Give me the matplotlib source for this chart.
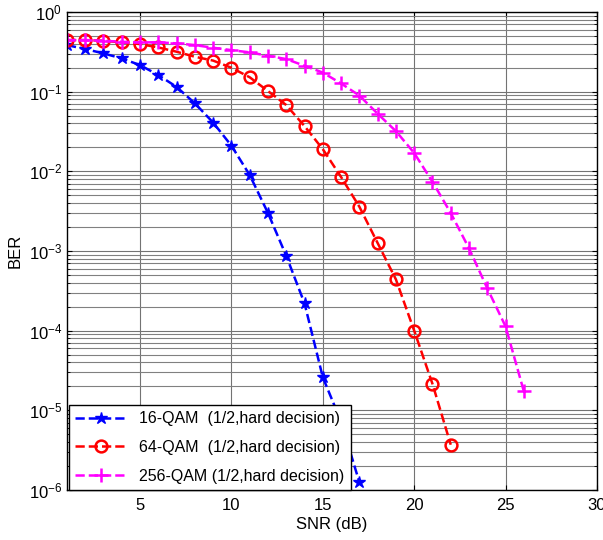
import matplotlib.pyplot as plt
from matplotlib.ticker import LogLocator, NullFormatter

plt.rcParams['font.family'] = ['Liberation Sans', 'DejaVu Sans']
plt.rcParams['mathtext.default'] = 'regular'

# SNR (dB) points per curve
snr_16 = list(range(1, 18))
snr_64 = list(range(1, 23))
snr_256 = list(range(1, 27))

# BER values
ber_16 = [0.385, 0.344, 0.303, 0.262, 0.216, 0.162, 0.115, 0.0715, 0.041, 0.021,
          0.009, 3.0e-3, 8.7e-4, 2.2e-4, 2.6e-5, 7.2e-6, 1.25e-6]
ber_64 = [0.445, 0.445, 0.437, 0.417, 0.397, 0.36, 0.318, 0.275, 0.246, 0.2,
          0.152, 0.102, 0.068, 0.037, 0.019, 0.0085, 3.6e-3, 1.26e-3, 4.4e-4,
          1.0e-4, 2.15e-5, 3.7e-6]
ber_256 = [0.445, 0.445, 0.437, 0.424, 0.417, 0.417, 0.405, 0.385, 0.357, 0.333,
           0.312, 0.283, 0.257, 0.212, 0.174, 0.127, 0.0896, 0.053, 0.032, 0.017,
           7.4e-3, 3.0e-3, 1.08e-3, 3.4e-4, 1.13e-4, 1.73e-5]

labels = ["16-QAM  (1/2,hard decision)",
          "64-QAM  (1/2,hard decision)",
          "256-QAM (1/2,hard decision)"]

fig = plt.figure(figsize=(6.03, 5.40), dpi=100)
ax = fig.add_axes([0.111, 0.0926, 0.879, 0.885])

ax.semilogy(snr_16, ber_16, '--', color='blue', marker='*', markersize=9, lw=1.8, label=labels[0])
ax.semilogy(snr_64, ber_64, '--', color='red', marker='o', markersize=8.5, lw=1.8,
            markerfacecolor='none', markeredgewidth=1.8, label=labels[1])
ax.semilogy(snr_256, ber_256, '--', color='magenta', marker='+', markersize=10, lw=1.8,
            markeredgewidth=1.8, label=labels[2])

ax.set_xlim(1, 30)
ax.set_ylim(1e-6, 1)
ax.set_xticks([5, 10, 15, 20, 25, 30])
ax.yaxis.set_major_locator(LogLocator(base=10, numticks=10))
ax.yaxis.set_minor_locator(LogLocator(base=10, subs=range(2, 10), numticks=20))
ax.yaxis.set_minor_formatter(NullFormatter())

ax.grid(True, which='major', color='0.45', lw=0.8)
ax.grid(True, which='minor', axis='y', color='0.5', lw=0.8)
ax.tick_params(which='both', direction='in', top=True, right=True, labelsize=12)
ax.tick_params(axis='x', pad=6)
for s in ax.spines.values():
    s.set_linewidth(1.0)

ax.set_xlabel("SNR (dB)", fontsize=12, labelpad=3)
ax.set_ylabel("BER", fontsize=12, labelpad=4)

leg = ax.legend(loc='lower left', bbox_to_anchor=(0.004, 0.0), fontsize=11.5,
                fancybox=False, edgecolor='black', framealpha=1,
                handlelength=3.2, borderaxespad=0, labelspacing=0.85)
leg.get_frame().set_linewidth(1.0)

fig.savefig("out.png", dpi=100)
